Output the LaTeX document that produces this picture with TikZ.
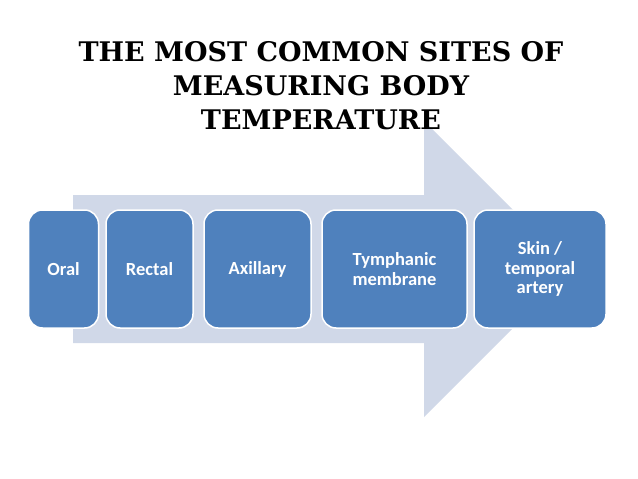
\documentclass[tikz,border=0pt]{standalone}
\usepackage{fontspec}
\setmainfont{DejaVu Serif}
\newfontfamily\boxfont{Carlito}
\definecolor{arrowfill}{RGB}{208,216,232}
\definecolor{boxblue}{RGB}{79,129,189}
\begin{document}
\begin{tikzpicture}[x=1pt,y=-1pt,
  site/.style={draw=white, line width=1.5pt, fill=boxblue, rounded corners=14pt,
    minimum height=118pt, inner sep=2pt, align=center, text=white,
    font=\boxfont\bfseries\fontsize{18.5}{19.5}\selectfont}]
\useasboundingbox (0,0) rectangle (638,479);
\fill[white] (0,0) rectangle (638,479);
% big arrow
\fill[arrowfill] (73,195) -- (424,195) -- (424,121) -- (572,269) -- (424,417) -- (424,343) -- (73,343) -- cycle;
% title
\node[align=center, font=\bfseries\fontsize{27}{34}\selectfont] (title) at (321,86)
  {THE MOST COMMON SITES OF\\MEASURING BODY\\TEMPERATURE};
% boxes
\node[site, minimum width=70pt] (oral) at (63.5,269) {Oral};
\node[site, minimum width=87pt] (rectal) at (149.5,269) {Rectal};
\node[site, minimum width=107pt] (axillary) at (257.5,269) {Axillary};
\node[site, minimum width=145pt] (tymp) at (394.5,269) {Tymphanic\\membrane};
\node[site, minimum width=132pt] (skin) at (540,269) {Skin /\\temporal\\artery};
\end{tikzpicture}
\end{document}
